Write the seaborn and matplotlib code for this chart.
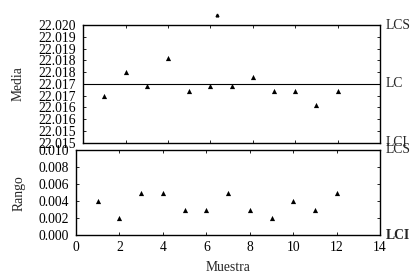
import numpy as np
import seaborn as sns
import matplotlib
import matplotlib.pyplot as plt
import matplotlib.transforms as mtransforms
from matplotlib.lines import Line2D
import pandas as pd

# datos de las muestras
muestra = list(range(1, 13))
media = [22.0170, 22.0180, 22.0174, 22.0186, 22.0172, 22.0174,
         22.0174, 22.0178, 22.0172, 22.0172, 22.0166, 22.0172]
rango = [0.004, 0.002, 0.005, 0.005, 0.003, 0.003,
         0.005, 0.003, 0.002, 0.004, 0.003, 0.005]

# limites de control
lcs_media, lc_media, lci_media = 22.020, 22.0175, 22.015
lcs_rango, lci_rango = 0.010, 0.000

media_ticks = [22.015, 22.0155, 22.016, 22.0165, 22.017, 22.0175,
               22.018, 22.0185, 22.019, 22.0195, 22.020]
media_ticklabels = ["22.015", "22.015", "22.016", "22.016", "22.017", "22.017",
                    "22.018", "22.018", "22.019", "22.019", "22.020"]
rango_ticks = [0.000, 0.002, 0.004, 0.006, 0.008, 0.010]
x_ticks = [0, 2, 4, 6, 8, 10, 12, 14]

sns.set_style("ticks")
matplotlib.rcParams["font.family"] = ["Liberation Serif", "DejaVu Serif"]
matplotlib.rcParams["font.size"] = 9.8
matplotlib.rcParams["xtick.direction"] = "in"
matplotlib.rcParams["ytick.direction"] = "in"
matplotlib.rcParams["xtick.major.size"] = 2.5
matplotlib.rcParams["ytick.major.size"] = 2.5
matplotlib.rcParams["xtick.top"] = True
matplotlib.rcParams["ytick.right"] = True

df = pd.DataFrame({"Muestra": muestra, "Media": media, "Rango": rango})

fig = plt.figure(figsize=(4.2, 2.79), dpi=100)
ax1 = fig.add_axes([0.198, 0.4885, 0.707, 0.4215])
ax2 = fig.add_axes([0.181, 0.1566, 0.724, 0.3058])

# grafico de medias
sns.scatterplot(data=df, x="Muestra", y="Media", marker="^", color="black",
                s=14, linewidth=0, ax=ax1, legend=False)
ax1.axhline(lc_media, color="black", linewidth=0.8)
ax1.set_xlim(0, 14)
ax1.set_ylim(lci_media, lcs_media)
ax1.set_xticks(x_ticks)
ax1.set_xticklabels([])
ax1.set_yticks(media_ticks)
ax1.set_yticklabels(media_ticklabels)
ax1.set_xlabel("")
ax1.set_ylabel("Media", labelpad=10)

# grafico de rangos
sns.scatterplot(data=df, x="Muestra", y="Rango", marker="^", color="black",
                s=14, linewidth=0, ax=ax2, legend=False)
ax2.set_xlim(0, 14)
ax2.set_ylim(lci_rango, lcs_rango)
ax2.set_xticks(x_ticks)
ax2.set_yticks(rango_ticks)
ax2.set_yticklabels([f"{v:.3f}" for v in rango_ticks])
ax2.set_xlabel("Muestra", labelpad=5)
ax2.set_ylabel("Rango", labelpad=9)

for ax in (ax1, ax2):
    for sp in ax.spines.values():
        sp.set_linewidth(1.0)
        sp.set_color("black")
    ax.tick_params(axis="y", pad=5, colors="black", width=0.6)
    ax.tick_params(axis="x", pad=4, colors="black", width=0.6)

# etiquetas de limites
tr1 = mtransforms.blended_transform_factory(ax1.transAxes, ax1.transData)
ax1.text(1.017, lcs_media, "LCS", transform=tr1, va="center", ha="left")
ax1.text(1.017, lc_media, "LC", transform=tr1, va="center", ha="left")
ax1.text(1.017, lci_media, "LCI", transform=tr1, va="center", ha="left")
tr2 = mtransforms.blended_transform_factory(ax2.transAxes, ax2.transData)
ax2.text(1.017, lcs_rango, "LCS", transform=tr2, va="center", ha="left")
ax2.text(1.017, lci_rango, "LCI", transform=tr2, va="center", ha="left",
         fontweight="bold")

# clave de leyenda sin titulo
ax1.legend(handles=[Line2D([], [], marker="^", ls="", color="black", ms=2)],
           labels=[""], loc="center", bbox_to_anchor=(0.45, 1.077),
           frameon=False, handlelength=0.5, handletextpad=0, borderpad=0)

fig.savefig("out.png", dpi=100)
